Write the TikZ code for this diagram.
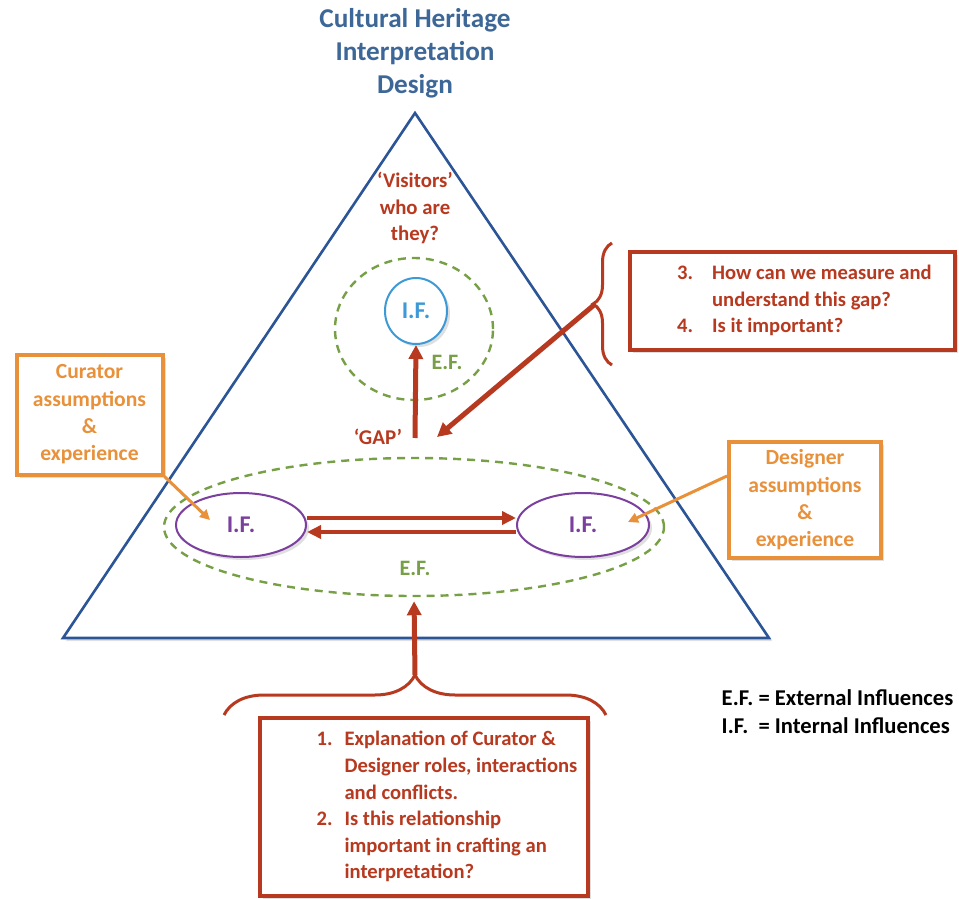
\documentclass[tikz,border=0pt]{standalone}
\usepackage{fontspec}
\setmainfont{Carlito}
\usepackage{xcolor}
\usepackage{tikz}
\usetikzlibrary{shapes.geometric, arrows.meta, positioning, shadows,
                decorations.pathreplacing, calc}
\definecolor{titleblue}{HTML}{3D6797}
\definecolor{triblue}{HTML}{2B5596}
\definecolor{qred}{HTML}{B7391F}
\definecolor{roleorange}{HTML}{E8913A}
\definecolor{efgreen}{HTML}{77A046}
\definecolor{ifpurple}{HTML}{7B3F9E}
\definecolor{ifblue}{HTML}{3D9AD6}

\begin{document}
\begin{tikzpicture}[x=0.5pt, y=-0.5pt,
  softshadow/.style={drop shadow={opacity=0.25, shadow xshift=1.5pt,
                     shadow yshift=-1.5pt}},
  ifnode/.style={ellipse, draw, line width=1pt, fill=white, inner sep=0pt,
                 font=\fontsize{12}{14}\selectfont\bfseries, softshadow},
  efnode/.style={ellipse, draw=efgreen, line width=1.2pt,
                 dash pattern=on 4pt off 3pt, inner sep=0pt},
  eflabel/.style={text=efgreen, font=\fontsize{11}{13}\selectfont\bfseries},
  qbox/.style={rectangle, draw=qred, line width=2pt, fill=white, text=qred,
               inner sep=0pt, font=\fontsize{10.3}{13.3}\selectfont\bfseries,
               softshadow},
  rolebox/.style={rectangle, draw=roleorange, line width=2pt, fill=white,
                  text=roleorange, align=center, inner sep=0pt,
                  font=\fontsize{10.8}{13.7}\selectfont\bfseries, softshadow},
  redarrow/.style={-{Triangle[length=7pt, width=7pt]}, draw=qred,
                   line width=2.5pt},
  linkarrow/.style={-{Triangle[length=7pt, width=6.5pt]}, draw=qred,
                    line width=2.2pt},
  orangearrow/.style={-{Triangle[length=5pt, width=5pt]}, draw=roleorange,
                      line width=1.5pt},
  qbrace/.style={decorate, draw=qred, line width=1.5pt}
]
\useasboundingbox (0,0) rectangle (959,899);

% Title and triangle
\node[text=titleblue, align=center, font=\fontsize{13.6}{16.5}\selectfont\bfseries]
      (title) at (415,53) {Cultural Heritage\\Interpretation\\Design};
\draw[triblue, line width=1.3pt, fill=white, softshadow]
      (415,113) -- (769,638) -- (63,638) -- cycle;

% Visitors cluster
\node[text=qred, align=center, font=\fontsize{10.4}{13.3}\selectfont\bfseries]
      (visitors) at (415,208) {`Visitors'\\who are\\they?};
\node[efnode, minimum width=79pt, minimum height=71pt] (efvis) at (414,329) {};
\node[ifnode, draw=ifblue, text=ifblue, minimum width=31pt, minimum height=33pt]
      (visif) at (416,311) {I.F.};
\node[eflabel] (efvislabel) at (447,362) {E.F.};
\node[text=qred, font=\fontsize{10.5}{12}\selectfont\bfseries] (gap) at (378,437) {`GAP'};
\coordinate (gapbase) at (415,438);

% Curator and designer cluster
\node[efnode, minimum width=250pt, minimum height=69pt] (efouter) at (414,527) {};
\node[ifnode, draw=ifpurple, text=ifpurple, minimum width=65pt, minimum height=32pt]
      (curif) at (241,525) {I.F.};
\node[ifnode, draw=ifpurple, text=ifpurple, minimum width=66pt, minimum height=32pt]
      (desif) at (583,525) {I.F.};
\node[eflabel] (efouterlabel) at (415,568) {E.F.};

\node[rolebox, minimum width=73pt, minimum height=60pt] (curator) at (89.5,414.5)
      {Curator\\assumptions\\\&\\experience};
\node[rolebox, minimum width=76pt, minimum height=58pt] (designer) at (805,500)
      {Designer\\assumptions\\\&\\experience};
\coordinate (curhead) at (210,520);
\coordinate (deshead) at (628,522);

% Question boxes
\node[qbox, minimum width=162.5pt, minimum height=49pt] (gapq) at (792.5,301)
      {\begin{tabular}{@{\hspace{12pt}}l@{\hspace{9.5pt}}l@{}}
        3. & How can we measure and\\
           & understand this gap?\\
        4. & Is it important?
      \end{tabular}};
\node[qbox, minimum width=164pt, minimum height=89pt] (roleq) at (424,807)
      {\begin{tabular}{@{\hspace{23pt}}l@{\hspace{6pt}}l@{}}
        1. & Explanation of Curator \&\\
           & Designer roles, interactions\\
           & and conflicts.\\
        2. & Is this relationship\\
           & important in crafting an\\
           & interpretation?
      \end{tabular}};

% Braces
\draw[qbrace, decoration={brace, amplitude=9.5pt}] (612,365) -- (612,243);
\coordinate (gaptip) at (594,305);
\coordinate (gaphead) at (437,437);
\draw[qbrace, decoration={brace, amplitude=20pt}] (224,715) -- (606,715);
\coordinate (roletip) at (415,675);

% Legend
\node[font=\fontsize{11.3}{13.6}\selectfont\bfseries] (legend) at (837.5,714)
      {\begin{tabular}{@{}l@{ }l@{}}
        E.F. & = External Influences\\
        I.F. & = Internal Influences
      \end{tabular}};

% Relations
\draw[redarrow] (gapbase) -- (visif.south);
\draw[redarrow] (gaptip) -- (gaphead);
\draw[redarrow, shorten >=2pt] (roletip) -- (efouter.south);
\draw[linkarrow] ([yshift=3.5pt]curif.east) -- ([yshift=3.5pt]desif.west);
\draw[linkarrow] ([yshift=-3.5pt]desif.west) -- ([yshift=-3.5pt]curif.east);
\draw[orangearrow] (curator.south east) -- (curhead);
\draw[orangearrow] ($(designer.north west)!0.3!(designer.south west)$) -- (deshead);

\end{tikzpicture}
\end{document}
